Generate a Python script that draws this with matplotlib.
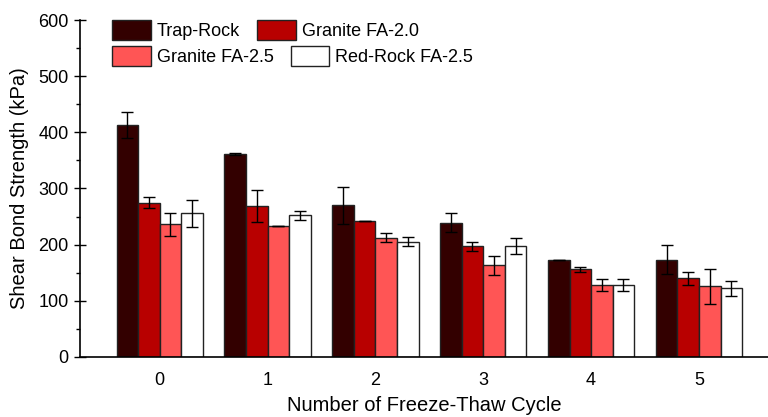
import numpy as np
import matplotlib.pyplot as plt

plt.rcParams['font.family'] = ['Liberation Sans', 'DejaVu Sans']

cycles = ['0', '1', '2', '3', '4', '5']
series = ['Trap-Rock', 'Granite FA-2.0', 'Granite FA-2.5', 'Red-Rock FA-2.5']
colors = ['#330000', '#B80000', '#FF5555', '#FFFFFF']

trap_rock = [413, 362, 270, 239, 172, 173]
trap_rock_err = [23, 2, 33, 17, 0, 26]
granite_20 = [275, 269, 242, 197, 156, 140]
granite_20_err = [10, 29, 0, 8, 5, 12]
granite_25 = [236, 234, 212, 163, 128, 126]
granite_25_err = [20, 0, 8, 17, 11, 31]
red_rock = [256, 252, 205, 197, 128, 122]
red_rock_err = [24, 8, 8, 14, 11, 14]

values = [trap_rock, granite_20, granite_25, red_rock]
errors = [trap_rock_err, granite_20_err, granite_25_err, red_rock_err]


def main():
    fig = plt.figure(figsize=(7.68, 4.17), dpi=100)
    ax = fig.add_axes([0.104, 0.144, 0.896, 0.808])

    x = np.arange(len(cycles))
    width = 0.2
    bars = []
    for i in range(len(series)):
        b = ax.bar(x + (i - 1.5) * width, values[i], width, color=colors[i],
                   edgecolor='#222222', linewidth=1.0, label=series[i],
                   yerr=errors[i], capsize=4,
                   error_kw=dict(ecolor='black', elinewidth=1.0, capthick=1.0))
        bars.append(b)

    ax.set_xlim(-0.74, 5.64)
    ax.set_ylim(0, 600)
    ax.set_xticks(x)
    ax.set_xticklabels(cycles)
    ax.set_yticks(range(0, 601, 100))
    ax.set_yticks(range(50, 600, 100), minor=True)
    ax.tick_params(axis='x', length=0, pad=11, labelsize=13)
    ax.tick_params(axis='y', which='major', direction='inout', length=9, width=1, labelsize=13)
    ax.tick_params(axis='y', which='minor', direction='out', length=3, width=1)

    ax.spines['top'].set_visible(False)
    ax.spines['right'].set_visible(False)
    ax.spines['left'].set_linewidth(1.2)
    ax.spines['bottom'].set_linewidth(1.2)

    ax.set_xlabel('Number of Freeze-Thaw Cycle', fontsize=14.5, labelpad=5)
    ax.set_ylabel('Shear Bond Strength (kPa)', fontsize=14.5, labelpad=7)

    # two legend rows laid out independently, like the original
    leg_kw = dict(ncol=2, frameon=False, fontsize=13, loc='upper left',
                  bbox_transform=fig.transFigure, handlelength=2.15,
                  handleheight=1.3, columnspacing=0.94, handletextpad=0.33,
                  borderaxespad=0, borderpad=0)
    leg1 = ax.legend(bars[:2], series[:2], bbox_to_anchor=(0.1458, 0.952), **leg_kw)
    ax.add_artist(leg1)
    ax.legend(bars[2:], series[2:], bbox_to_anchor=(0.1458, 0.889), **leg_kw)

    fig.savefig('out.png', dpi=100)


if __name__ == '__main__':
    main()
